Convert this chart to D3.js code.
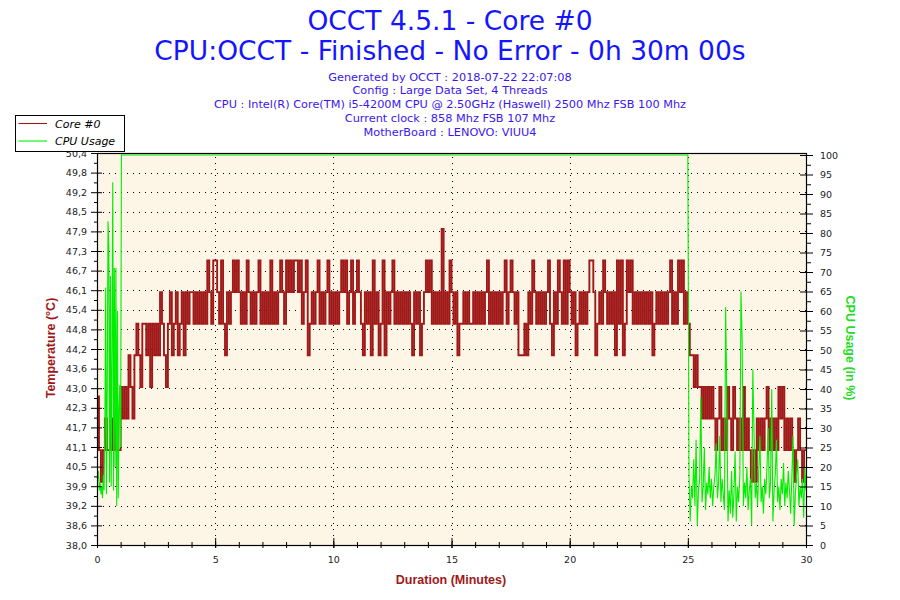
<!DOCTYPE html>
<html>
<head>
<meta charset="utf-8">
<script src="https://cdn.jsdelivr.net/npm/d3@7"></script>
<style>
  body { margin: 0; background: #fff; }
  svg text { font-family: "DejaVu Sans", Verdana, sans-serif; }
</style>
</head>
<body>
<svg id="chart" width="900" height="600"></svg>
<script>
var titleLines = ["OCCT 4.5.1 - Core #0", "CPU:OCCT - Finished - No Error - 0h 30m 00s"];
var infoLines = [
  "Generated by OCCT : 2018-07-22 22:07:08",
  "Config : Large Data Set, 4 Threads",
  "CPU : Intel(R) Core(TM) i5-4200M CPU @ 2.50GHz (Haswell) 2500 Mhz FSB 100 Mhz",
  "Current clock : 858 Mhz FSB 107 Mhz",
  "MotherBoard : LENOVO: VIUU4"
];
var seriesNames = ["Core #0", "CPU Usage"];

var timeTicks = [0, 5, 10, 15, 20, 25, 30];
var tempTickLabels = ["38,0", "38,6", "39,2", "39,9", "40,5", "41,1", "41,7", "42,3", "43,0", "43,6",
  "44,2", "44,8", "45,4", "46,1", "46,7", "47,3", "47,9", "48,5", "49,2", "49,8", "50,4"];
var cpuTicks = [0, 5, 10, 15, 20, 25, 30, 35, 40, 45, 50, 55, 60, 65, 70, 75, 80, 85, 90, 95, 100];

// core temperature, one sample every 5 s (one row = one minute)
var TEMP_STEP = 5;
var tempValues = [
  42.7,41,40,41,42,41,41,42,41,42,41,41,
  43,42,43,42,44,43,42,44,45,44,43,45,
  45,44,45,43,45,44,45,44,46,45,44,43,
  45,46,44,45,46,44,45,46,44,46,45,46,
  46,45,46,45,46,45,46,45,47,46,45,47,
  47,46,45,47,45,44,46,45,46,47,46,47,
  46,45,46,45,47,46,45,46,45,46,47,45,
  46,45,46,45,47,45,46,45,46,47,46,45,
  47,46,47,46,47,47,46,47,45,46,47,44,
  45,46,45,46,47,45,46,45,46,47,45,46,
  45,46,45,46,47,46,47,45,46,47,45,46,
  47,46,45,44,46,45,46,44,47,45,46,44,
  45,47,44,46,45,46,47,45,46,45,46,45,
  46,45,46,45,44,46,45,46,44,45,46,47,
  46,47,45,46,45,46,45,48,45,46,45,47,
  46,45,46,44,45,45,46,45,46,45,45,46,
  45,46,45,46,45,46,47,45,46,45,46,45,
  46,45,46,47,45,46,47,46,45,46,44,44,
  44,45,44,46,45,47,46,45,46,45,46,45,
  46,47,45,44,46,45,47,46,45,47,45,47,
  46,45,46,44,45,46,45,46,45,46,47,47,
  46,44,45,46,45,47,46,45,46,45,46,44,
  47,45,47,44,45,47,46,47,45,46,45,46,
  45,46,45,46,45,46,44,45,46,45,46,45,
  46,45,46,47,45,46,45,47,46,47,45,46,
  45,44,44,43,44,43,43,42,43,42,43,42,
  43,42,41,42,43,41,42,41,43,42,41,43,
  42,41,42,41,43,41,42,41,40,41,40,42,
  41,42,41,42,43,41,42,41,42,41,43,42,
  43,41,42,41,42,41,40,41,42,41,40,41,
  41
];

// cpu usage: warm-up samples every 2 s, full load plateau, cool-down samples every 3 s
var CPU_HEAD_STEP = 2;
var cpuHead = [20,17,19,14,16,13,15,12,18,14,30,66,13,40,83,76,16,69,15,50,93,14,71,20,71,10,60,12,35,41,25];
var cpuPlateauTimes = [62, 1500]; // seconds
var cpuPlateauValue = 100;
var CPU_TAIL_START = 1503, CPU_TAIL_STEP = 3;
var cpuTail = [
  18,6,15,12,22,10,27,5,14,17,38,11,15,25,9,16,13,20,12,17,
  10,15,18,26,12,16,28,11,17,13,9,61,37,6,14,8,19,7,13,24,
  6,15,11,18,65,52,10,16,12,20,9,14,17,5,45,29,12,16,10,19,
  28,11,15,8,17,13,20,30,12,16,40,6,14,18,27,11,15,9,17,13,
  21,10,16,12,19,14,8,17,28,5,13,18,22,10,15,12,17,7,20,14
];

var TEMP_COLOR = "#a01919", CPU_COLOR = "#00ee00";
var PLOT = {left: 97, right: 806, top: 153, bottom: 545};

var svg = d3.select("#chart");

var x = d3.scaleLinear().domain([0, 30]).range([PLOT.left, PLOT.right]);
var yTemp = d3.scaleLinear().domain([38, 50.4]).range([PLOT.bottom, PLOT.top]);
var yCpu = d3.scaleLinear().domain([0, 100]).range([PLOT.bottom, 155]);

//labels are rounded, the ticks themselves are evenly spread over the domain
var tempTickPos = tempTickLabels.map(function(d, i) { return 38 + i * 12.4 / (tempTickLabels.length - 1); });
var tempMinor = tempTickPos.slice(1).map(function(d, i) { return (d + tempTickPos[i]) / 2; });
var cpuMinor = cpuTicks.slice(1).map(function(d) { return d - 2.5; });
var timeMinor = d3.range(0, 31);

// titles
svg.selectAll(".title")
  .data(titleLines)
  .enter().append("text")
  .attr("class", "title")
  .attr("x", 450)
  .attr("y", function(d, i) { return 29.5 + i * 30; })
  .attr("text-anchor", "middle")
  .style("font-size", "26.5px")
  .attr("fill", "#1414ff")
  .text(function(d) { return d; });

svg.selectAll(".info")
  .data(infoLines)
  .enter().append("text")
  .attr("class", "info")
  .attr("x", 450)
  .attr("y", function(d, i) { return 80.5 + i * 13.9; })
  .attr("text-anchor", "middle")
  .style("font-size", "11.3px")
  .attr("fill", "#3a16f0")
  .text(function(d) { return d; });

// plot background
svg.append("rect")
  .attr("x", PLOT.left).attr("y", PLOT.top)
  .attr("width", PLOT.right - PLOT.left).attr("height", PLOT.bottom - PLOT.top)
  .attr("fill", "#fdf5e6");

// dotted grid
var grid = svg.append("g").attr("stroke", "#000").attr("stroke-width", 1)
  .attr("stroke-dasharray", "1,5").attr("shape-rendering", "crispEdges");
grid.selectAll(".hgrid")
  .data(tempTickPos.slice(1, -1))
  .enter().append("line")
  .attr("x1", PLOT.left + 6).attr("x2", PLOT.right)
  .attr("y1", function(d) { return Math.round(yTemp(d)) + 0.5; })
  .attr("y2", function(d) { return Math.round(yTemp(d)) + 0.5; });
grid.selectAll(".vgrid")
  .data(timeTicks.slice(1, -1))
  .enter().append("line")
  .attr("y1", PLOT.top + 4).attr("y2", PLOT.bottom)
  .attr("x1", function(d) { return Math.round(x(d)) + 0.5; })
  .attr("x2", function(d) { return Math.round(x(d)) + 0.5; });

// series
svg.append("clipPath").attr("id", "plotClip")
  .append("rect")
  .attr("x", PLOT.left).attr("y", PLOT.top)
  .attr("width", PLOT.right - PLOT.left).attr("height", PLOT.bottom - PLOT.top);

var tempPoints = tempValues.map(function(v, i) { return {t: i * TEMP_STEP / 60, v: v}; });

var cpuPoints = cpuHead.map(function(v, i) { return {t: i * CPU_HEAD_STEP / 60, v: v}; })
  .concat(cpuPlateauTimes.map(function(s) { return {t: s / 60, v: cpuPlateauValue}; }))
  .concat(cpuTail.map(function(v, i) { return {t: (CPU_TAIL_START + i * CPU_TAIL_STEP) / 60, v: v}; }));

var tempLine = d3.line()
  .x(function(d) { return x(d.t); })
  .y(function(d) { return yTemp(d.v); })
  .curve(d3.curveStepAfter);
var cpuLine = d3.line()
  .x(function(d) { return x(d.t); })
  .y(function(d) { return yCpu(d.v); });

var series = svg.append("g").attr("clip-path", "url(#plotClip)");
series.append("path")
  .datum(tempPoints)
  .attr("d", tempLine)
  .attr("fill", "none")
  .attr("stroke", TEMP_COLOR)
  .attr("stroke-width", 1.9);
series.append("path")
  .datum(cpuPoints)
  .attr("d", cpuLine)
  .attr("fill", "none")
  .attr("stroke", CPU_COLOR)
  .attr("stroke-width", 1.1);

// axes
function styleAxis(g) {
  g.select(".domain").remove();
  g.selectAll("text").style("font-size", "9.5px").attr("fill", "#222")
    .style("font-family", "\"DejaVu Sans\", Verdana, sans-serif");
  g.selectAll("line").attr("stroke", "#000");
}

var leftMinor = svg.append("g").attr("transform", "translate(" + PLOT.left + ",0)")
  .call(d3.axisLeft(yTemp).tickValues(tempMinor).tickSize(3).tickFormat(""));
styleAxis(leftMinor);
var leftAxis = svg.append("g").attr("transform", "translate(" + PLOT.left + ",0)")
  .call(d3.axisLeft(yTemp).tickValues(tempTickPos).tickSize(6).tickPadding(4)
    .tickFormat(function(d, i) { return tempTickLabels[i]; }));
styleAxis(leftAxis);
leftAxis.selectAll("line").attr("x1", 5);

var rightMinor = svg.append("g").attr("transform", "translate(" + PLOT.right + ",0)")
  .call(d3.axisRight(yCpu).tickValues(cpuMinor).tickSize(5).tickFormat(""));
styleAxis(rightMinor);
var rightAxis = svg.append("g").attr("transform", "translate(" + PLOT.right + ",0)")
  .call(d3.axisRight(yCpu).tickValues(cpuTicks).tickSize(7).tickPadding(7));
styleAxis(rightAxis);
rightAxis.selectAll("line").attr("x1", -6);

var bottomMinor = svg.append("g").attr("transform", "translate(0," + PLOT.bottom + ")")
  .call(d3.axisBottom(x).tickValues(timeMinor).tickSize(3).tickFormat(""));
styleAxis(bottomMinor);
bottomMinor.selectAll("line").attr("y1", -3);
var bottomAxis = svg.append("g").attr("transform", "translate(0," + PLOT.bottom + ")")
  .call(d3.axisBottom(x).tickValues(timeTicks).tickSize(3).tickPadding(8.5));
styleAxis(bottomAxis);
bottomAxis.selectAll("line").attr("y1", -7);

// frame
svg.append("rect")
  .attr("x", PLOT.left + 0.5).attr("y", PLOT.top + 0.5)
  .attr("width", PLOT.right - PLOT.left).attr("height", PLOT.bottom - PLOT.top)
  .attr("fill", "none").attr("stroke", "#000").attr("stroke-width", 1.2);

// axis titles
svg.append("text")
  .attr("transform", "translate(54.5,348) rotate(-90)")
  .attr("text-anchor", "middle")
  .style("font-family", "\"Liberation Sans\", Arial, sans-serif")
  .style("font-size", "12.5px").style("font-weight", "bold")
  .attr("fill", TEMP_COLOR)
  .text("Temperature (°C)");
svg.append("text")
  .attr("transform", "translate(845.5,348) rotate(90)")
  .attr("text-anchor", "middle")
  .style("font-family", "\"Liberation Sans\", Arial, sans-serif")
  .style("font-size", "12.5px").style("font-weight", "bold")
  .attr("fill", "#22dd22")
  .text("CPU Usage (in %)");
svg.append("text")
  .attr("x", 451).attr("y", 583.5)
  .attr("text-anchor", "middle")
  .style("font-family", "\"Liberation Sans\", Arial, sans-serif")
  .style("font-size", "12.5px").style("font-weight", "bold")
  .attr("fill", TEMP_COLOR)
  .text("Duration (Minutes)");

// legend
var legend = svg.append("g").attr("transform", "translate(15,115)");
legend.append("rect")
  .attr("x", 0.5).attr("y", 0.5).attr("width", 109).attr("height", 36)
  .attr("fill", "#fff").attr("stroke", "#000");
var legendRows = legend.selectAll(".row")
  .data(seriesNames)
  .enter().append("g")
  .attr("transform", function(d, i) { return "translate(0," + (8.5 + i * 17.5) + ")"; });
legendRows.append("line")
  .attr("x1", 3.5).attr("x2", 32)
  .attr("stroke", function(d, i) { return i == 0 ? TEMP_COLOR : CPU_COLOR; })
  .attr("stroke-width", 1.1);
legendRows.append("text")
  .attr("x", 40).attr("y", 4)
  .style("font-size", "11px").style("font-style", "italic")
  .attr("fill", "#000")
  .text(function(d) { return d; });
</script>
</body>
</html>
